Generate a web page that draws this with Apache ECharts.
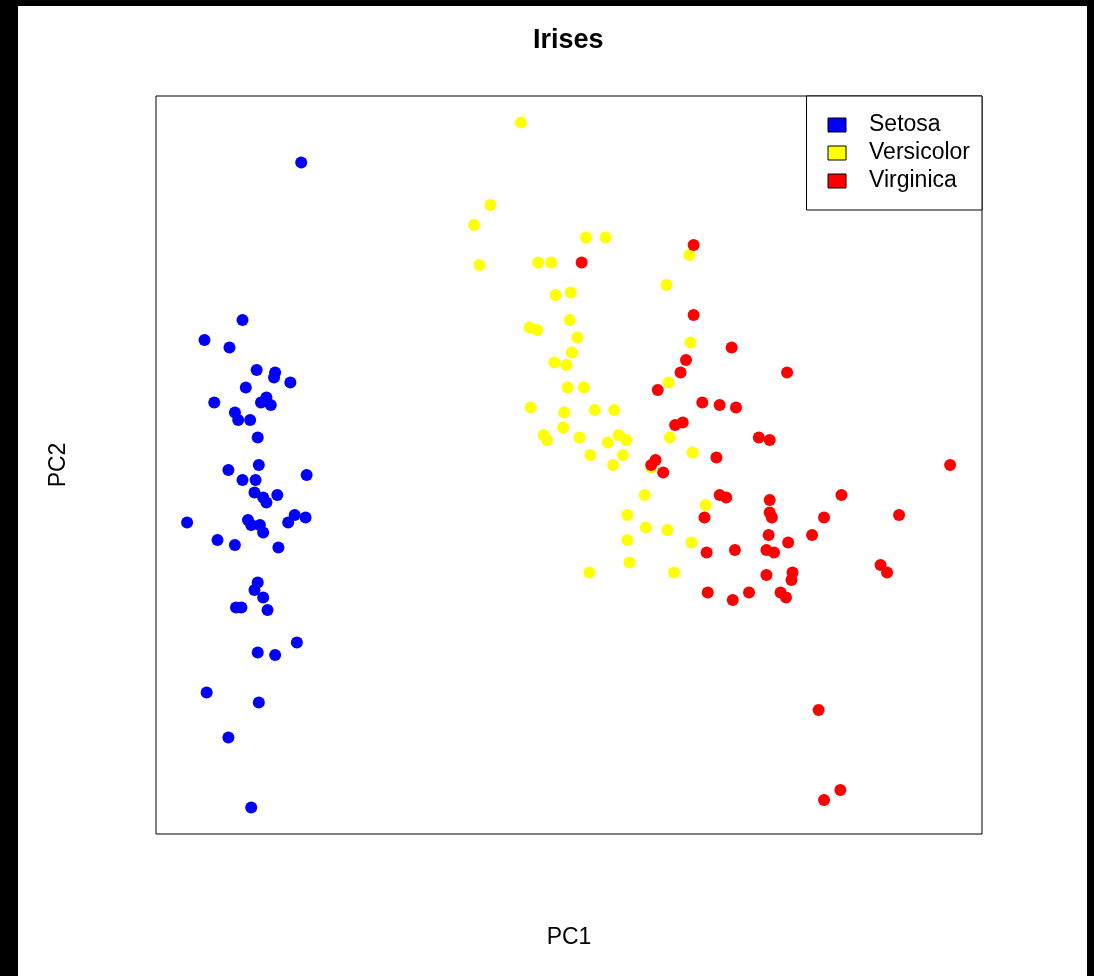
<!DOCTYPE html>
<html>
<head>
<meta charset="utf-8">
<title>Irises</title>
<script src="https://cdn.jsdelivr.net/npm/echarts@6/dist/echarts.min.js"></script>
<style>
  html, body { margin: 0; padding: 0; background: #000; width: 1094px; height: 976px; overflow: hidden; }
  #chart { position: absolute; left: 18px; top: 6px; width: 1069px; height: 970px; background: #fff; }
</style>
</head>
<body>
<div id="chart"></div>
<script>
// Principal component scores (PC1, PC2) for each species
const setosa = [
  [-2.16, 1.21], [-2.70, 0.58], [-3.05, 0.50], [-2.82, 0.47], [-2.57, 0.38],
  [-2.40, 0.37], [-2.41, 0.35], [-2.26, 0.33], [-2.67, 0.31], [-2.96, 0.25],
  [-2.48, 0.27], [-2.53, 0.25], [-2.44, 0.24], [-2.77, 0.21], [-2.74, 0.18],
  [-2.63, 0.18], [-2.56, 0.11], [-2.55, 0.00], [-2.83, -0.02], [-2.11, -0.04],
  [-2.70, -0.06], [-2.58, -0.06], [-2.59, -0.11], [-2.51, -0.13], [-2.48, -0.15],
  [-2.38, -0.12], [-3.21, -0.23], [-2.65, -0.22], [-2.62, -0.24], [-2.54, -0.24],
  [-2.51, -0.27], [-2.22, -0.20], [-2.28, -0.23], [-2.12, -0.21], [-2.93, -0.30],
  [-2.77, -0.32], [-2.37, -0.33], [-2.56, -0.47], [-2.59, -0.50], [-2.51, -0.53],
  [-2.76, -0.57], [-2.71, -0.57], [-2.47, -0.58], [-2.20, -0.71], [-2.56, -0.75],
  [-2.40, -0.76], [-3.03, -0.91], [-2.55, -0.95], [-2.83, -1.09], [-2.62, -1.37]
];
const versicolor = [
  [-0.14, 1.37], [-0.42, 1.04], [-0.57, 0.96], [0.46, 0.91], [0.64, 0.91],
  [-0.52, 0.80], [0.02, 0.81], [0.14, 0.81], [0.18, 0.68], [0.32, 0.69],
  [0.31, 0.58], [-0.06, 0.55], [0.01, 0.54], [0.38, 0.51], [0.33, 0.45],
  [0.17, 0.41], [0.28, 0.40], [0.29, 0.31], [0.44, 0.31], [-0.05, 0.23],
  [0.26, 0.21], [0.54, 0.22], [0.72, 0.22], [0.25, 0.15], [0.07, 0.12],
  [0.10, 0.10], [0.40, 0.11], [0.76, 0.12], [0.83, 0.10], [0.66, 0.09],
  [0.50, 0.04], [0.80, 0.04], [0.71, 0.00], [1.23, 0.11], [1.06, -0.01],
  [1.00, -0.12], [0.84, -0.20], [1.01, -0.25], [1.21, -0.26], [0.84, -0.30],
  [1.43, -0.31], [0.86, -0.39], [0.49, -0.43], [1.27, -0.43], [1.56, -0.16],
  [1.44, 0.05], [1.41, 0.84], [1.20, 0.72], [1.42, 0.49], [1.22, 0.33]
];
const virginica = [
  [0.42, 0.81], [1.45, 0.88], [1.45, 0.60], [1.80, 0.47], [1.38, 0.42],
  [2.31, 0.37], [1.33, 0.37], [1.12, 0.30], [1.53, 0.25], [1.69, 0.24],
  [1.84, 0.23], [1.28, 0.16], [1.35, 0.17], [2.05, 0.11], [2.15, 0.10],
  [1.10, 0.02], [1.06, 0.00], [1.17, -0.03], [1.66, 0.03], [1.69, -0.12],
  [1.75, -0.13], [1.55, -0.21], [1.57, -0.35], [1.83, -0.34], [2.15, -0.14],
  [2.15, -0.19], [2.17, -0.21], [2.14, -0.28], [2.12, -0.34], [2.19, -0.35],
  [2.32, -0.31], [2.54, -0.28], [2.65, -0.21], [2.81, -0.12], [3.34, -0.20],
  [3.17, -0.40], [3.23, -0.43], [2.12, -0.44], [2.36, -0.43], [2.35, -0.46],
  [1.58, -0.51], [1.81, -0.54], [1.96, -0.51], [2.25, -0.51], [2.30, -0.53],
  [2.60, -0.98], [2.65, -1.34], [2.80, -1.30], [3.81, 0.00]
];
const speciesNames = ['Setosa', 'Versicolor', 'Virginica'];
const speciesColors = ['#0000ff', '#ffff00', '#ff0000'];
const speciesData = [setosa, versicolor, virginica];

const FONT = '"Liberation Sans", Arial, Helvetica, sans-serif';
const chart = echarts.init(document.getElementById('chart'), null, { renderer: 'canvas' });

const hiddenAxis = {
  type: 'value',
  nameLocation: 'middle',
  nameTextStyle: { color: '#000', fontSize: 23, fontFamily: FONT },
  axisLine: { show: false },
  axisTick: { show: false },
  axisLabel: { show: false },
  splitLine: { show: false }
};

chart.setOption({
  animation: false,
  backgroundColor: '#fff',
  textStyle: { fontFamily: FONT },
  title: {
    text: 'Irises',
    left: 515,
    top: 21,
    padding: 0,
    textStyle: { color: '#000', fontSize: 27, fontWeight: 'bold', fontFamily: FONT }
  },
  grid: {
    left: 138, top: 90, width: 826, height: 738,
    show: true, borderColor: '#000', borderWidth: 1, backgroundColor: 'transparent',
    containLabel: false
  },
  xAxis: Object.assign({}, hiddenAxis, { name: 'PC1', nameGap: 92, min: -3.496, max: 4.1032 }),
  yAxis: Object.assign({}, hiddenAxis, { name: 'PC2', nameGap: 86, min: -1.476, max: 1.476 }),
  legend: {
    orient: 'vertical',
    right: 105,
    top: 90,
    padding: [15, 12, 15, 21],
    itemGap: 0,
    itemWidth: 18,
    itemHeight: 14,
    icon: 'rect',
    backgroundColor: '#fff',
    borderColor: '#000',
    borderWidth: 1,
    borderRadius: 0,
    itemStyle: { borderColor: '#000', borderWidth: 1 },
    textStyle: { color: '#000', fontSize: 23, lineHeight: 25, fontFamily: FONT, padding: [3, 0, 0, 18] },
    data: speciesNames
  },
  series: speciesNames.map((name, i) => ({
    name: name,
    type: 'scatter',
    symbol: 'circle',
    symbolSize: 12,
    itemStyle: { color: speciesColors[i], opacity: 1 },
    emphasis: { disabled: true },
    data: speciesData[i]
  }))
});
</script>
</body>
</html>
